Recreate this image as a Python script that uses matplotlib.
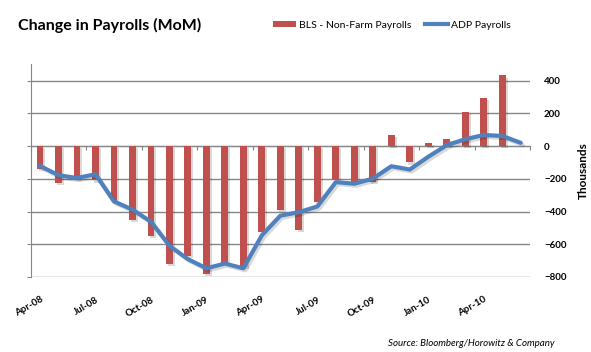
import matplotlib
matplotlib.use("Agg")
import matplotlib.pyplot as plt
import matplotlib.patheffects as pe
from matplotlib.patches import Patch
from matplotlib.lines import Line2D
import numpy as np

plt.rcParams['font.family'] = ['Lato', 'DejaVu Sans']

months = ['Apr-08', 'May-08', 'Jun-08', 'Jul-08', 'Aug-08', 'Sep-08', 'Oct-08', 'Nov-08', 'Dec-08',
          'Jan-09', 'Feb-09', 'Mar-09', 'Apr-09', 'May-09', 'Jun-09', 'Jul-09', 'Aug-09', 'Sep-09',
          'Oct-09', 'Nov-09', 'Dec-09', 'Jan-10', 'Feb-10', 'Mar-10', 'Apr-10', 'May-10', 'Jun-10']
bls = [-140, -224, -199, -210, -333, -452, -550, -722, -671, -779, -716, -740, -527, -388, -513,
       -342, -207, -220, -220, 66, -100, 18, 42, 208, 293, 432, np.nan]
adp = [-121, -178, -195, -172, -338, -388, -462, -609, -691, -747, -718, -747, -545, -425, -404,
       -369, -220, -230, -199, -123, -143, -65, 6, 42, 68, 62, 20]
tick_labels = ['Apr-08', 'Jul-08', 'Oct-08', 'Jan-09', 'Apr-09', 'Jul-09', 'Oct-09', 'Jan-10', 'Apr-10']
y_ticks = [-800, -600, -400, -200, 0, 200, 400]

red = '#C0504D'
blue = '#4F81BD'
grid = '#868686'

fig = plt.figure(figsize=(5.91, 3.52), dpi=100)
ax = fig.add_axes([0.052, 0.2131, 0.8448, 0.6042])

x = np.arange(len(months))
bars = ax.bar(x, bls, width=0.37, color=red, zorder=3)
for b in bars:
    b.set_path_effects([pe.SimplePatchShadow(offset=(1.5, -1.5), shadow_rgbFace='#000000', alpha=0.15), pe.Normal()])
ax.plot(x, adp, color=blue, lw=3.0, solid_joinstyle='round', solid_capstyle='round', zorder=4,
        path_effects=[pe.SimpleLineShadow(offset=(1.5, -1.5), shadow_color='#000000', alpha=0.15), pe.Normal()])

ax.set_xlim(-0.5, len(months) - 0.5)
ax.set_ylim(-800, 500)
ax.set_yticks(y_ticks)
ax.yaxis.grid(True, color=grid, lw=1)
ax.set_axisbelow(True)

for s in ['top', 'right']:
    ax.spines[s].set_visible(False)
ax.spines['left'].set_color(grid)
ax.spines['bottom'].set_position(('data', 0))
ax.spines['bottom'].set_color(grid)
ax.spines['bottom'].set_zorder(2)

# category boundary ticks every 3 months on the zero line
ax.set_xticks(np.arange(-0.5, len(months), 3))
ax.tick_params(axis='x', direction='out', length=3, color=grid, labelbottom=False)
ax.tick_params(axis='y', left=True, right=False, labelleft=False, labelright=True,
               direction='out', length=3, color=grid, labelsize=7, pad=7)
for t in ax.get_yticklabels():
    t.set_fontweight('bold')

ax.set_ylabel('Thousands', fontsize=8.5, fontweight='bold', labelpad=8)
ax.yaxis.set_label_position('right')

sec = ax.secondary_xaxis('bottom')
sec.set_xticks([months.index(m) for m in tick_labels])
sec.set_xticklabels(tick_labels, rotation=30, ha='right', va='top', rotation_mode='anchor',
                    fontsize=7, fontweight='bold')
sec.tick_params(length=0, pad=13)
sec.spines['bottom'].set_visible(False)

fig.text(0.03, 1 - 25 / 352, 'Change in Payrolls (MoM)', fontsize=11.5, fontweight='bold', va='center', ha='left')

handles = [Patch(facecolor=red, edgecolor='none'), Line2D([0], [0], color=blue, lw=3)]
fig.legend(handles, ['BLS - Non-Farm Payrolls', 'ADP Payrolls'], loc='center', bbox_to_anchor=(392 / 591, 1 - 25 / 352),
           ncol=2, frameon=False, fontsize=7.5, handlelength=2.2, handleheight=0.5, handletextpad=0.3,
           columnspacing=1.3)

fig.text(555 / 591, 1 - 344 / 352, 'Source: Bloomberg/Horowitz & Company', fontsize=7, style='italic',
         ha='right', va='center')

fig.savefig('out.png', dpi=100)
